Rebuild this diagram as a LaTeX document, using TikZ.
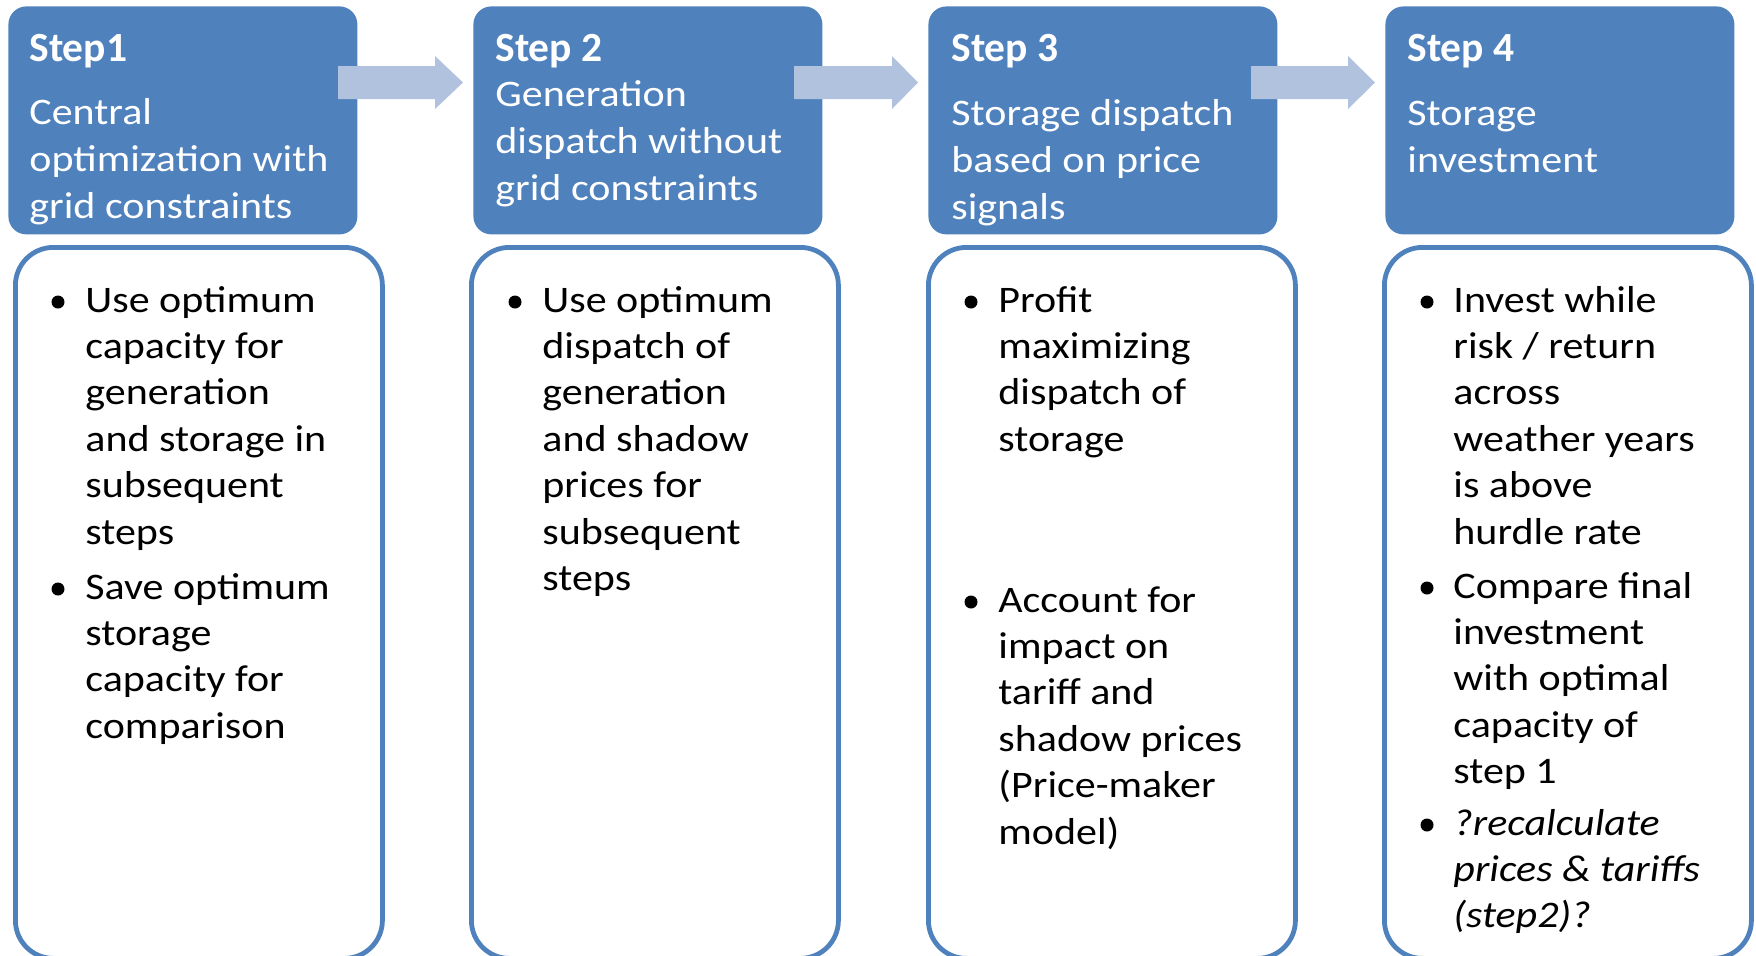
\documentclass[tikz,border=0pt]{standalone}
\usepackage{fontspec}
\setmainfont{Carlito}[FakeStretch=1.12]
\newfontfamily\titlefont{Carlito}
\definecolor{hdrblue}{HTML}{4F81BD}
\definecolor{arrowblue}{HTML}{B0C2DE}
\definecolor{lineblue}{HTML}{4F81BD}
\newcommand\mlines[2]{\vtop{\baselineskip=#1\lineskiplimit=-30pt\lineskip=0pt #2}}
\newcommand\LL[1]{\hbox{#1}}
\begin{document}
\begin{tikzpicture}[x=0.5pt,y=-0.5pt,
  hdr/.style={fill=hdrblue, draw=none, rounded corners=9pt, anchor=north west, minimum width=174.5pt, minimum height=114pt, inner sep=0pt},
  bodybox/.style={draw=lineblue, line width=2.4pt, fill=white, rounded corners=19pt, anchor=north west, minimum width=183.5pt, minimum height=355.5pt, inner sep=0pt},
  htitle/.style={anchor=base west, inner sep=0pt, text=white, font=\titlefont\bfseries\fontsize{20.75pt}{24pt}\selectfont},
  htext/.style={anchor=base west, inner sep=0pt, text=white, font=\fontsize{18.75pt}{23.5pt}\selectfont},
  btext/.style={anchor=base west, inner sep=0pt, text=black, font=\fontsize{18.75pt}{23.2pt}\selectfont},
  bul/.style={circle, fill=black, inner sep=0pt, minimum size=6.5pt},
  blockarrow/.style={fill=arrowblue, draw=none}]
\useasboundingbox (0,0) rectangle (1756,955);
\clip (0,0) rectangle (1756,955);

% header boxes
\node[hdr] (h1) at (8,6) {};
\node[hdr] (h2) at (473,6) {};
\node[hdr] (h3) at (928,6) {};
\node[hdr] (h4) at (1385,6) {};

% block arrows between headers
\fill[blockarrow] (338,66) -- (435,66) -- (435,56) -- (463,82.5) -- (435,109) -- (435,99) -- (338,99) -- cycle;
\fill[blockarrow] (794,66) -- (892,66) -- (892,56) -- (918,82.5) -- (892,109) -- (892,99) -- (794,99) -- cycle;
\fill[blockarrow] (1251,66) -- (1348,66) -- (1348,56) -- (1375,82.5) -- (1348,109) -- (1348,99) -- (1251,99) -- cycle;

% header texts
\node[htitle] (t1) at (29,61) {Step1};
\node[htitle] (t2) at (495,61) {Step 2};
\node[htitle] (t3) at (951,61) {Step 3};
\node[htitle] (t4) at (1407,61) {Step 4};

\node[htext] (s1) at (29,124) {\mlines{23.6pt}{\LL{Central}\LL{optimization with}\LL{grid constraints}}};
\node[htext] (s2) at (495,106) {\mlines{23.6pt}{\LL{Generation}\LL{dispatch without}\LL{grid constraints}}};
\node[htext] (s3) at (951,125) {\mlines{23.6pt}{\LL{Storage dispatch}\LL{based on price}\LL{signals}}};
\node[htext] (s4) at (1407,125) {\mlines{23.6pt}{\LL{Storage}\LL{investment}}};

% body boxes
\node[bodybox] (b1) at (13,245) {};
\node[bodybox] (b2) at (469,245) {};
\node[bodybox] (b3) at (926,245) {};
\node[bodybox] (b4) at (1382,245) {};

% box 1
\node[bul] (u1a) at (58,302) {};
\node[btext] (p1a) at (85,312) {\mlines{23.2pt}{\LL{Use optimum}\LL{capacity for}\LL{generation}\LL{and storage in}\LL{subsequent}\LL{steps}}};
\node[bul] (u1b) at (58,589) {};
\node[btext] (p1b) at (85,599) {\mlines{23.2pt}{\LL{Save optimum}\LL{storage}\LL{capacity for}\LL{comparison}}};

% box 2
\node[bul] (u2a) at (515,302) {};
\node[btext] (p2a) at (542,312) {\mlines{23.2pt}{\LL{Use optimum}\LL{dispatch of}\LL{generation}\LL{and shadow}\LL{prices for}\LL{subsequent}\LL{steps}}};

% box 3
\node[bul] (u3a) at (971,302) {};
\node[btext] (p3a) at (998,312) {\mlines{23.2pt}{\LL{Profit}\LL{maximizing}\LL{dispatch of}\LL{storage}}};
\node[bul] (u3b) at (971,602) {};
\node[btext] (p3b) at (998,612) {\mlines{23.2pt}{\LL{Account for}\LL{impact on}\LL{tariff and}\LL{shadow prices}\LL{(Price-maker}\LL{model)}}};

% box 4
\node[bul] (u4a) at (1427,302) {};
\node[btext] (p4a) at (1453,312) {\mlines{23.2pt}{\LL{Invest while}\LL{risk / return}\LL{across}\LL{weather years}\LL{is above}\LL{hurdle rate}}};
\node[bul] (u4b) at (1427,588) {};
\node[btext] (p4b) at (1453,598) {\mlines{23.2pt}{\LL{Compare final}\LL{investment}\LL{with optimal}\LL{capacity of}\LL{step 1}}};
\node[bul] (u4c) at (1427,825) {};
\node[btext] (p4c) at (1453,835) {\itshape\mlines{23.2pt}{\LL{?recalculate}\LL{prices \& tariffs}\LL{(step2)?}}};
\end{tikzpicture}
\end{document}
